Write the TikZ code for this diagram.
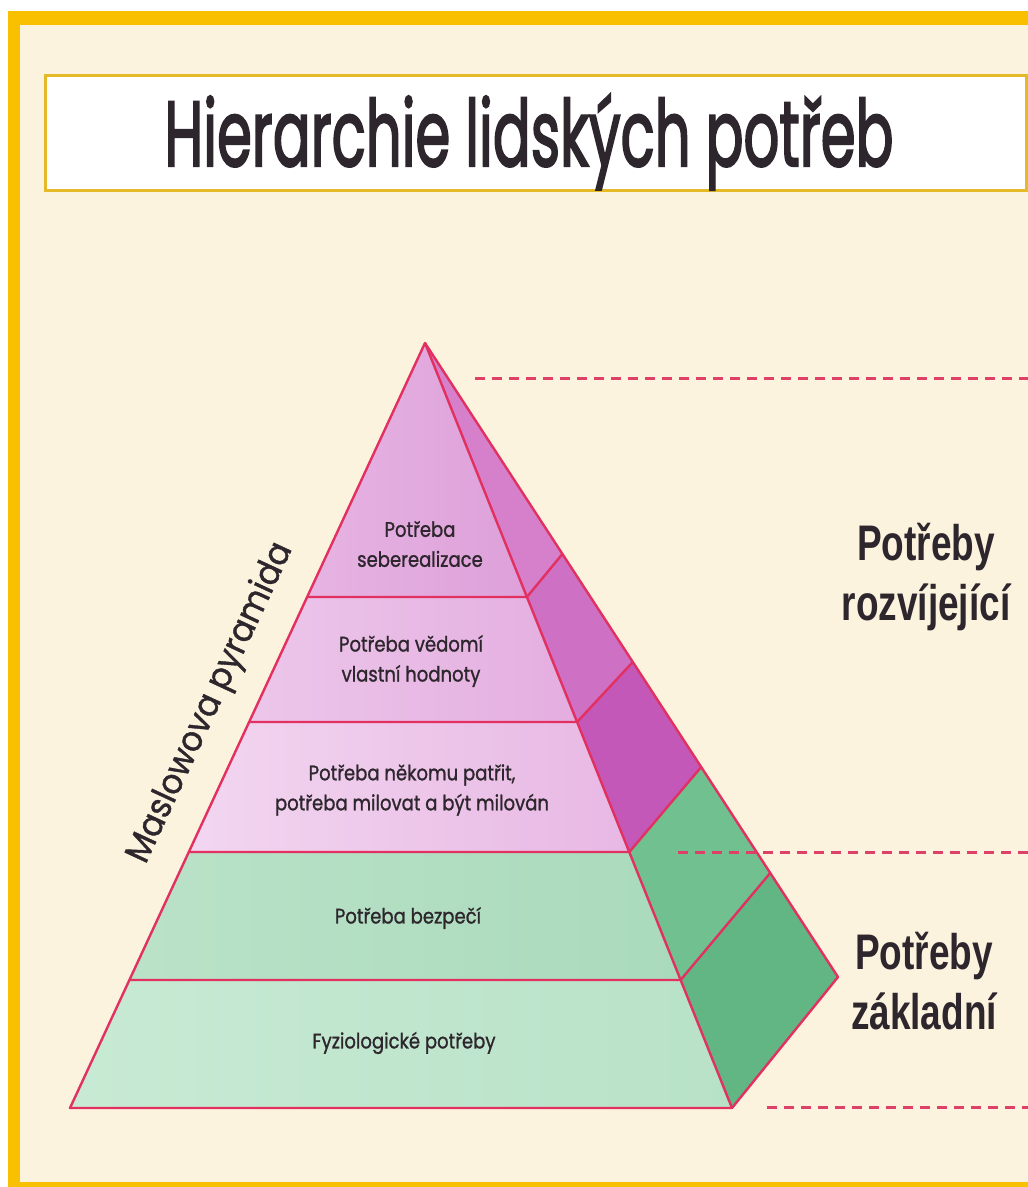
\documentclass[tikz,border=0pt]{standalone}
\usepackage{fontspec}
\usepackage{graphicx}
\newfontfamily\geo{Poppins}
\newfontfamily\geom[FakeBold=1.2]{Poppins}
\newfontfamily\geot[FakeBold=2.6]{Poppins}
\newfontfamily\narrow[FakeStretch=0.74]{Liberation Sans}
\definecolor{cream}{RGB}{252,243,222}
\definecolor{frameyellow}{RGB}{249,192,0}
\definecolor{boxgold}{RGB}{228,186,40}
\definecolor{edgered}{RGB}{226,48,96}
\definecolor{dashred}{RGB}{222,64,104}
\definecolor{txt}{RGB}{45,38,45}
\definecolor{pinkA}{RGB}{222,160,218}
\definecolor{pinkAl}{RGB}{230,180,226}
\definecolor{pinkB}{RGB}{228,174,224}
\definecolor{pinkBl}{RGB}{236,198,234}
\definecolor{pinkC}{RGB}{232,184,228}
\definecolor{pinkCl}{RGB}{242,214,240}
\definecolor{greenD}{RGB}{170,218,188}
\definecolor{greenDl}{RGB}{186,226,200}
\definecolor{greenE}{RGB}{184,226,200}
\definecolor{greenEl}{RGB}{200,234,212}
\definecolor{sidepink1}{RGB}{214,128,204}
\definecolor{sidepink2}{RGB}{206,112,196}
\definecolor{sidepink3}{RGB}{196,88,184}
\definecolor{sidegreen1}{RGB}{112,192,144}
\definecolor{sidegreen2}{RGB}{98,182,132}
\tikzset{
  edge/.style={draw=edgered, line width=2.4pt, line join=round},
  dashline/.style={draw=dashred, line width=3pt, dash pattern=on 10pt off 7pt},
  layertext/.style={font=\geom\fontsize{21}{30}\selectfont, text=txt, align=center, inner sep=0pt},
  sidelabel/.style={font=\narrow\bfseries\fontsize{50}{60}\selectfont, text=txt, align=center, inner sep=0pt},
}
\newcommand{\nar}[1]{\scalebox{0.86}[1]{#1}}
\begin{document}
\begin{tikzpicture}[x=1pt,y=-1pt]
\useasboundingbox (0,0) rectangle (1028,1187);
% background and frame
\fill[white] (0,0) rectangle (1028,1187);
\fill[frameyellow] (8,11) rectangle (1028,1187);
\fill[cream] (20,25) rectangle (1028,1182);
% title box
\node[draw=boxgold, line width=3pt, fill=white, minimum width=981pt, minimum height=115pt, inner sep=0pt] (titlebox) at (535.5,132.5) {};
\node[anchor=base, inner sep=0pt, text=txt] (title) at (529,166)
  {\scalebox{0.61}[1]{\geot\fontsize{92}{100}\selectfont Hierarchie lidských potřeb}};
% pyramid coordinates
\coordinate (A) at (425,343);
\coordinate (L1) at (307.1,597); \coordinate (R1) at (526.9,597);
\coordinate (L2) at (249.1,722); \coordinate (R2) at (577.1,722);
\coordinate (L3) at (188.8,852); \coordinate (R3) at (629.3,852);
\coordinate (L4) at (129.4,980); \coordinate (R4) at (680.6,980);
\coordinate (L5) at (70,1108);   \coordinate (R5) at (732,1108);
\coordinate (S1) at (562.4,554);
\coordinate (S2) at (632.8,662);
\coordinate (S3) at (701.2,767);
\coordinate (S4) at (770.2,873);
\coordinate (S5) at (838,977);
% front faces
\shade[left color=pinkAl, right color=pinkA] (A) -- (L1) -- (R1) -- cycle;
\shade[left color=pinkBl, right color=pinkB] (L1) -- (L2) -- (R2) -- (R1) -- cycle;
\shade[left color=pinkCl, right color=pinkC] (L2) -- (L3) -- (R3) -- (R2) -- cycle;
\shade[left color=greenDl, right color=greenD] (L3) -- (L4) -- (R4) -- (R3) -- cycle;
\shade[left color=greenEl, right color=greenE] (L4) -- (L5) -- (R5) -- (R4) -- cycle;
% side faces
\fill[sidepink1] (A) -- (R1) -- (S1) -- cycle;
\fill[sidepink2] (R1) -- (R2) -- (S2) -- (S1) -- cycle;
\fill[sidepink3] (R2) -- (R3) -- (S3) -- (S2) -- cycle;
\fill[sidegreen1] (R3) -- (R4) -- (S4) -- (S3) -- cycle;
\fill[sidegreen2] (R4) -- (R5) -- (S5) -- (S4) -- cycle;
% outlines
\draw[edge] (A) -- (L5) -- (R5) -- (S5) -- cycle;
\draw[edge] (A) -- (R5);
\draw[edge] (L1) -- (R1) -- (S1);
\draw[edge] (L2) -- (R2) -- (S2);
\draw[edge] (L3) -- (R3) -- (S3);
\draw[edge] (L4) -- (R4) -- (S4);
% dashed guide lines
\coordinate (d1a) at (475,378);  \coordinate (d1b) at (1028,378);
\coordinate (d2a) at (678,852);  \coordinate (d2b) at (1028,852);
\coordinate (d3a) at (767,1107); \coordinate (d3b) at (1028,1107);
\draw[dashline] (d1a) -- (d1b);
\draw[dashline] (d2a) -- (d2b);
\draw[dashline] (d3a) -- (d3b);
% layer labels
\node[layertext] (t1) at (420,544) {\nar{Potřeba}\\\nar{seberealizace}};
\node[layertext] (t2) at (411,661) {\nar{Potřeba vědomí}\\\nar{vlastní hodnoty}};
\node[layertext] (t3) at (412,790) {\nar{Potřeba někomu patřit,}\\\nar{potřeba milovat a být milován}};
\node[layertext] (t4) at (408,918) {\nar{Potřeba bezpečí}};
\node[layertext] (t5) at (404,1043) {\nar{Fyziologické potřeby}};
% pyramid name
\node[font=\geom\fontsize{35}{35}\selectfont, text=txt, rotate=65.1, inner sep=0pt] (mname) at (211,703) {\scalebox{0.92}[1]{Maslowova pyramida}};
% side labels
\node[sidelabel] (up) at (926,577) {Potřeby\\rozvíjející};
\node[sidelabel] (down) at (924,981) {Potřeby\\základní};
\end{tikzpicture}
\end{document}
